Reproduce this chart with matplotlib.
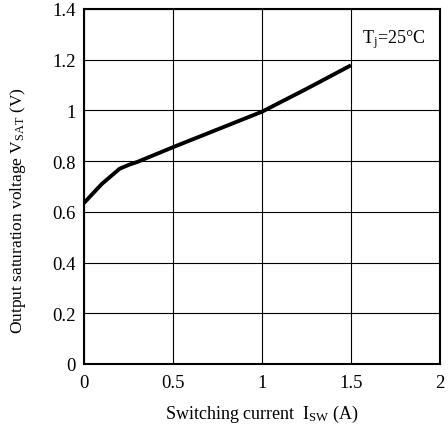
import matplotlib
matplotlib.use("Agg")
import matplotlib.pyplot as plt

current = [0.0, 0.1, 0.2, 0.25, 0.3, 0.5, 0.75, 1.0, 1.25, 1.5]
vsat = [0.635, 0.71, 0.77, 0.785, 0.797, 0.855, 0.925, 0.995, 1.085, 1.178]
xticks = [0, 0.5, 1, 1.5, 2]
xticklabels = ["0", "0.5", "1", "1.5", "2"]
yticks = [0, 0.2, 0.4, 0.6, 0.8, 1.0, 1.2, 1.4]
yticklabels = ["0", "0.2", "0.4", "0.6", "0.8", "1", "1.2", "1.4"]

plt.rcParams['font.family'] = ['Liberation Serif', 'DejaVu Serif']
plt.rcParams['mathtext.fontset'] = 'custom'
plt.rcParams['mathtext.rm'] = 'Liberation Serif'
plt.rcParams['mathtext.it'] = 'Liberation Serif'

fig = plt.figure(figsize=(4.48, 4.27), dpi=100)
ax = fig.add_axes([84/448, 1-365/427, 356/448, 355/427])
ax.plot(current, vsat, color='black', lw=2.8, solid_capstyle='butt')
ax.set_xlim(0, 2)
ax.set_ylim(0, 1.4)
ax.set_xticks(xticks)
ax.set_xticklabels(xticklabels)
ax.set_yticks(yticks)
ax.set_yticklabels(yticklabels)
ax.tick_params(length=0, labelsize=13.5, colors='black')
ax.tick_params(axis='x', pad=7)
ax.tick_params(axis='y', pad=6)
ax.grid(True, color='black', lw=0.8)
for s in ax.spines.values():
    s.set_linewidth(1.5)
ax.set_xlabel(r"Switching current  I$_{\rm SW}$ (A)", fontsize=13, labelpad=9)
fig.text(18/448, 1-211/427, r"Output saturation voltage V$_{\rm SAT}$ (V)", fontsize=12.5,
         rotation=90, ha='center', va='center')
ax.text(0.96, (365-40)/355, r"T$_{\rm j}$=25°C", transform=ax.transAxes, ha='right', va='center', fontsize=13)
fig.savefig("out.png", dpi=100)
